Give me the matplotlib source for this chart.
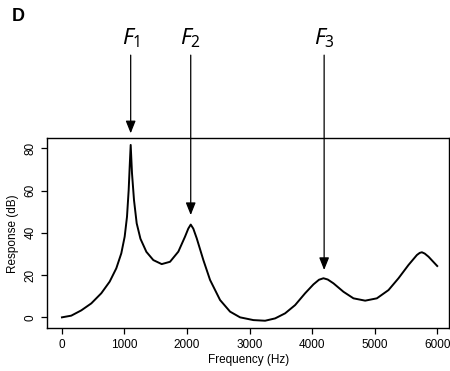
import numpy as np
import matplotlib
matplotlib.use("Agg")
import matplotlib.pyplot as plt

# Frequency response (Hz, dB)
freq = [0, 149, 309, 469, 629, 763, 869, 949, 1003, 1040, 1067, 1083, 1099,
        1120, 1152, 1195, 1255, 1350, 1461, 1595, 1728, 1861, 1968, 2020,
        2059, 2100, 2155, 2261, 2368, 2528, 2688, 2848, 3061, 3248, 3408,
        3568, 3728, 3888, 4021, 4110, 4181, 4250, 4341, 4501, 4661, 4848,
        5035, 5221, 5381, 5541, 5675, 5720, 5755, 5800, 5861, 6000]
resp = [0.0, 0.8, 3.3, 6.6, 11.4, 16.9, 23.2, 30.3, 38.2, 47.6, 60.3, 71.3,
        81.6, 68.2, 55.5, 44.5, 37.2, 31.0, 27.1, 25.2, 26.3, 31.1, 38.2,
        42.0, 43.9, 42.0, 37.4, 27.1, 17.7, 8.2, 2.7, 0.0, -1.3, -1.6, -0.5,
        1.9, 5.8, 11.4, 15.6, 17.8, 18.5, 17.9, 16.1, 12.1, 9.0, 7.9, 9.0,
        12.9, 18.5, 24.8, 29.5, 30.5, 30.8, 30.2, 28.7, 24.3]

# formant labels, arrow x positions and arrow tip heights
formants = ["$F_1$", "$F_2$", "$F_3$"]
formant_freq = [1099, 2059, 4192]
tip_db = [87.1, 48.4, 22.4]

xticks = [0, 1000, 2000, 3000, 4000, 5000, 6000]
yticks = [0, 20, 40, 60, 80]

plt.rcParams['font.family'] = ['Liberation Sans', 'DejaVu Sans']
plt.rcParams['mathtext.fontset'] = 'custom'
plt.rcParams['mathtext.it'] = 'Noto Sans:italic'
plt.rcParams['mathtext.rm'] = 'Noto Sans'

fig = plt.figure(figsize=(4.5, 3.71), dpi=100)
ax = fig.add_axes([0.105, 0.115, 0.893, 0.512])

ax.plot(freq, resp, color='black', lw=1.4, solid_joinstyle='round')

ax.set_xlim(-235, 6190)
ax.set_ylim(-5.2, 84.7)
ax.set_xticks(xticks)
ax.set_yticks(yticks)
ax.tick_params(direction='out', length=4.3, width=0.9, labelsize=8.5, pad=3.5)
for lab in ax.get_yticklabels():
    lab.set_rotation(90)
    lab.set_va('center')
for sp in ax.spines.values():
    sp.set_linewidth(1.0)

ax.set_xlabel('Frequency (Hz)', fontsize=8.5, labelpad=2)
ax.set_ylabel('Response (dB)', fontsize=8.5, labelpad=4)

top_db = 124.1
for lab, f, t in zip(formants, formant_freq, tip_db):
    ax.annotate('', xy=(f, t), xytext=(f, top_db), annotation_clip=False,
                arrowprops=dict(arrowstyle='-|>,head_length=0.75,head_width=0.3',
                                mutation_scale=10, color='black', lw=0.9,
                                shrinkA=0, shrinkB=0))
    ax.text(f, top_db + 2.5, lab, ha='center', va='bottom', fontsize=16,
            clip_on=False)

fig.text(0.027, 0.955, 'D', fontsize=13, fontweight='bold', va='center',
         family='Liberation Sans')

fig.savefig('out.png', dpi=100)
